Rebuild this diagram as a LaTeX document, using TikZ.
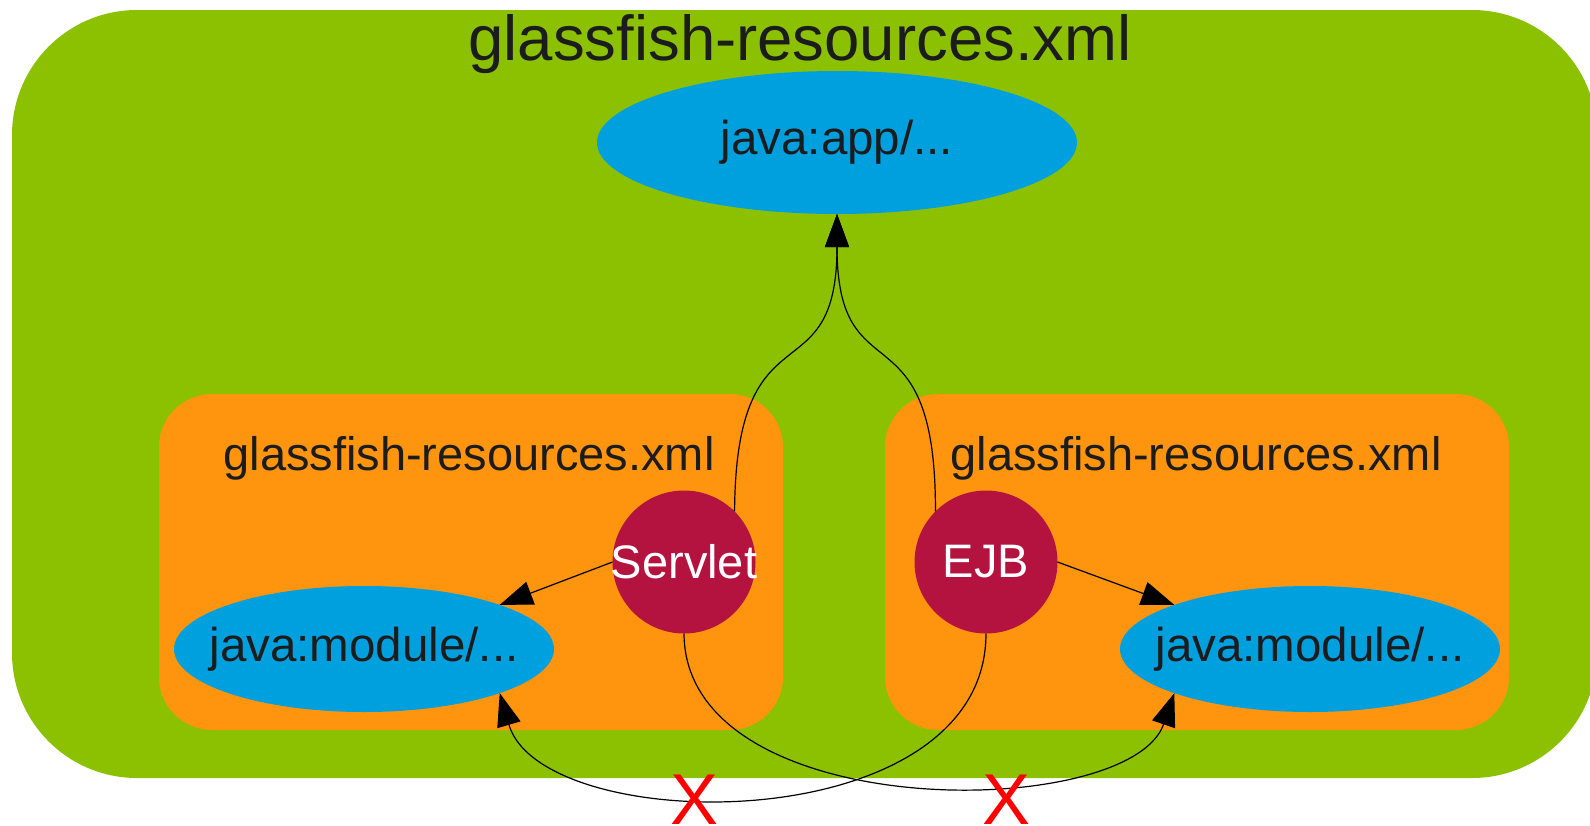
\documentclass[tikz,border=0pt]{standalone}
\usepackage{fontspec}
\setmainfont{Liberation Sans}
\usetikzlibrary{arrows.meta,shapes.geometric}
\definecolor{cgreen}{HTML}{8BC100}
\definecolor{corange}{HTML}{FF940F}
\definecolor{cblue}{HTML}{009FDE}
\definecolor{ccrimson}{HTML}{B5133F}
\definecolor{ctext}{HTML}{1C1C1C}
\begin{document}
\begin{tikzpicture}[x=1pt,y=-1pt,
  every node/.style={inner sep=0pt, outer sep=0pt},
  outerbox/.style={rectangle, rounded corners=125pt, fill=cgreen},
  innerbox/.style={rectangle, rounded corners=53pt, fill=corange, minimum width=624pt, minimum height=336pt},
  ns/.style={ellipse, fill=cblue, text=ctext, font=\fontsize{47.5}{56}\selectfont},
  comp/.style={circle, fill=ccrimson, text=white, minimum size=143pt, font=\fontsize{47}{56}\selectfont},
  lbl/.style={text=ctext, font=\fontsize{47}{56}\selectfont, anchor=base},
  conn/.style={draw=black, line width=1.2pt, -{Triangle[length=33pt,width=24pt]}},
  nope/.style={text=red, font=\fontsize{72}{86}\selectfont, anchor=base}
]
\useasboundingbox (0,0) rectangle (1590,825);
\clip (0,0) rectangle (1590,825);
\node[outerbox, minimum width=1585pt, minimum height=768pt] (outer) at (804.5,394) {};
\node[lbl, font=\fontsize{63.5}{75}\selectfont] (title) at (800,60) {glassfish-resources.xml};
\node[ns, minimum width=480pt, minimum height=143pt] (app) at (837,142.5) {\makebox[0pt]{java:app/...}};
\node[innerbox] (lbox) at (471,562) {};
\node[innerbox] (rbox) at (1197,562) {};
\node[lbl] (ltitle) at (469,470) {glassfish-resources.xml};
\node[lbl] (rtitle) at (1196,470) {glassfish-resources.xml};
\node[ns, minimum width=380pt, minimum height=126pt] (lmod) at (364,649) {\makebox[0pt]{java:module/...}};
\node[ns, minimum width=380pt, minimum height=126pt] (rmod) at (1310,649) {\makebox[0pt]{java:module/...}};
\node[comp] (servlet) at (684,562) {\makebox[0pt]{Servlet}};
\node[comp] (ejb) at (986,562) {\makebox[0pt]{EJB}};
\draw[conn] (servlet.45) .. controls (736,300) and (837,400) .. (app.south);
\draw[conn] (ejb.135) .. controls (936,300) and (837,400) .. (app.south);
\draw[conn] (servlet.west) -- (lmod.18);
\draw[conn] (ejb.east) -- (rmod.162);
\draw[conn] (servlet.south) .. controls (685,826) and (1130,822) .. (rmod.198);
\draw[conn] (ejb.south) .. controls (986,842) and (542,838) .. (lmod.-18);
\node[nope] (x1) at (695,824) {X};
\node[nope] (x2) at (1006,824) {X};
\end{tikzpicture}
\end{document}
